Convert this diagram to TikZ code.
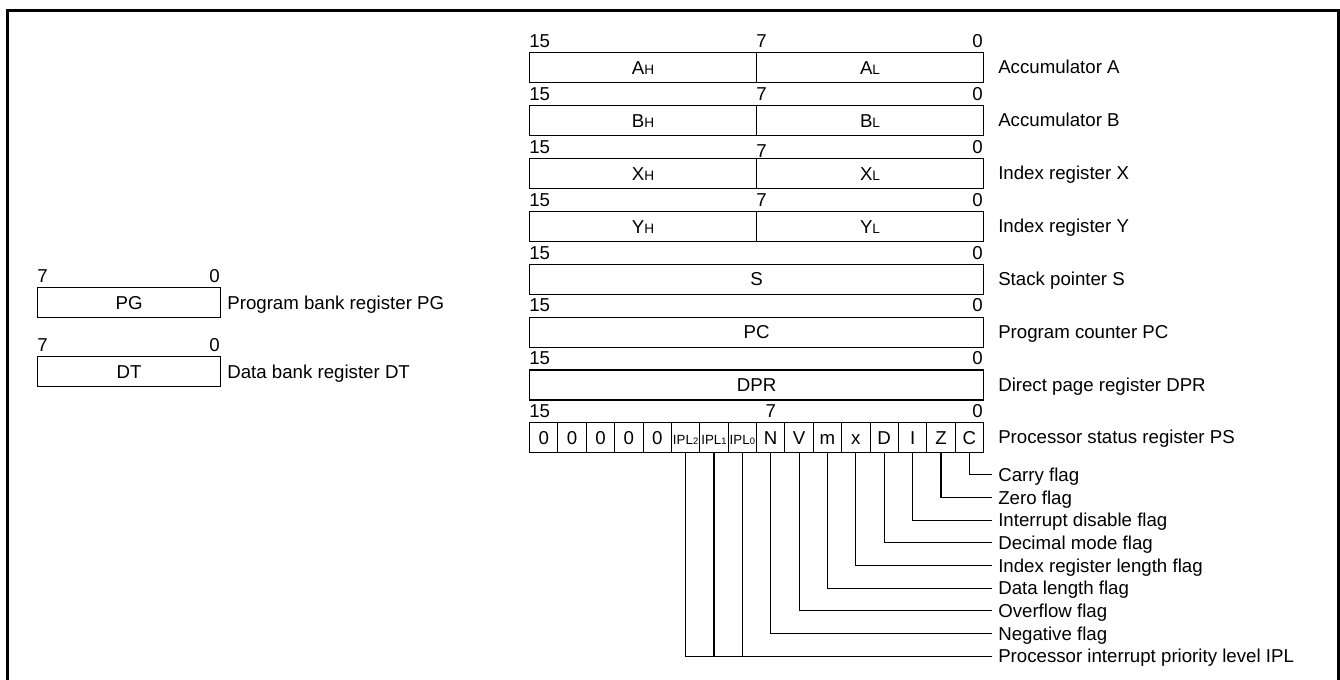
\documentclass[tikz,border=0pt]{standalone}
\usepackage{fontspec}
\setmainfont{Liberation Sans}
\newcommand\regsub[1]{{\fontsize{10.2}{11}\selectfont #1}}
\newcommand\iplcell[1]{{\fontsize{10}{11}\selectfont IPL{\fontsize{7}{8}\selectfont #1}}}
\begin{document}
\begin{tikzpicture}[x=0.75pt,y=-0.75pt,
  every node/.style={font=\fontsize{14}{16}\selectfont},
  reg/.style={draw,line width=0.8pt,inner sep=0pt,minimum height=22.5pt,text height=10pt,text depth=0pt,anchor=north west},
  half/.style={reg,minimum width=170.25pt},
  full/.style={reg,minimum width=340.5pt},
  cell/.style={reg,minimum width=21.28pt},
  bank/.style={reg,minimum width=137.25pt},
  num/.style={inner sep=0pt},
  lab/.style={inner xsep=4.5pt,inner ysep=0pt,text height=10pt,text depth=0pt,anchor=west},
  conn/.style={line width=0.8pt}]
\useasboundingbox (0,0) rectangle (1340,680);
% outer frame
\draw[line width=2.25pt] (7.5,682) -- (7.5,10.5) -- (1338.5,10.5) -- (1338.5,682);

% split registers
\foreach \i/\ch/\nm/\lb/\sh in {0/A/a/Accumulator A/0, 1/B/b/Accumulator B/0, 2/X/x/Index register X/4, 3/Y/y/Index register Y/0}{
  \pgfmathsetmacro\T{52.3+52.86*\i}
  \node[half] (\nm h) at (529,\T) {\ch\regsub{H}};
  \node[half] (\nm l) at (756,\T) {\ch\regsub{L}};
  \node[num,anchor=base west] (\nm n15) at (529,\T-4.6) {15};
  \node[num,anchor=base west] (\nm n7) at (756,\T-4.6+\sh) {7};
  \node[num,anchor=base east] (\nm n0) at (983,\T-4.6) {0};
  \node[lab] (\nm lab) at (992,\T+15) {\lb};
}
% full registers
\foreach \i/\txt/\nm/\lb in {4/S/s/Stack pointer S, 5/PC/pc/Program counter PC, 6/DPR/dpr/Direct page register DPR}{
  \pgfmathsetmacro\T{52.3+52.86*\i}
  \node[full] (\nm) at (529,\T) {\txt};
  \node[num,anchor=base west] (\nm n15) at (529,\T-4.6) {15};
  \node[num,anchor=base east] (\nm n0) at (983,\T-4.6) {0};
  \node[lab] (\nm lab) at (992,\T+15) {\lb};
}
% processor status register
\pgfmathsetmacro\TP{52.3+52.86*7}
\foreach \j/\txt in {0/0,1/0,2/0,3/0,4/0,5/\iplcell{2},6/\iplcell{1},7/\iplcell{0},8/N,9/V,10/m,11/x,12/D,13/I,14/Z,15/C}{
  \node[cell] (c\j) at (529+28.375*\j,\TP) {\txt};
}
\node[num,anchor=base west] (psn15) at (529,\TP-4.6) {15};
\node[num,anchor=base] (psn7) at (c8.north |- 0,\TP-4.6) {7};
\node[num,anchor=base east] (psn0) at (983,\TP-4.6) {0};
\node[lab] (pslab) at (992,\TP+15) {Processor status register PS};

% flags
\foreach \j/\k/\lb in {15/0/Carry flag, 14/1/Zero flag, 13/2/Interrupt disable flag, 12/3/Decimal mode flag, 11/4/Index register length flag, 10/5/Data length flag, 9/6/Overflow flag, 8/7/Negative flag}{
  \node[lab] (f\j) at (992,474.7+22.7*\k) {\lb};
  \draw[conn] (c\j.south) |- (f\j.west);
}
\node[lab] (fipl) at (992,474.7+22.7*8) {Processor interrupt priority level IPL};
\draw[conn] (c5.south) |- (fipl.west);
\draw[conn] (c6.south) -- (c6.south |- fipl.west);
\draw[conn] (c7.south) -- (c7.south |- fipl.west);

% bank registers
\node[bank] (pg) at (37,287) {PG};
\node[num,anchor=base west] (pgn7) at (37,282.4) {7};
\node[num,anchor=base east] (pgn0) at (220,282.4) {0};
\node[lab] (pglab) at (pg.east) {Program bank register PG};
\node[bank] (dt) at (37,356) {DT};
\node[num,anchor=base west] (dtn7) at (37,351.4) {7};
\node[num,anchor=base east] (dtn0) at (220,351.4) {0};
\node[lab] (dtlab) at (dt.east) {Data bank register DT};
\end{tikzpicture}
\end{document}
